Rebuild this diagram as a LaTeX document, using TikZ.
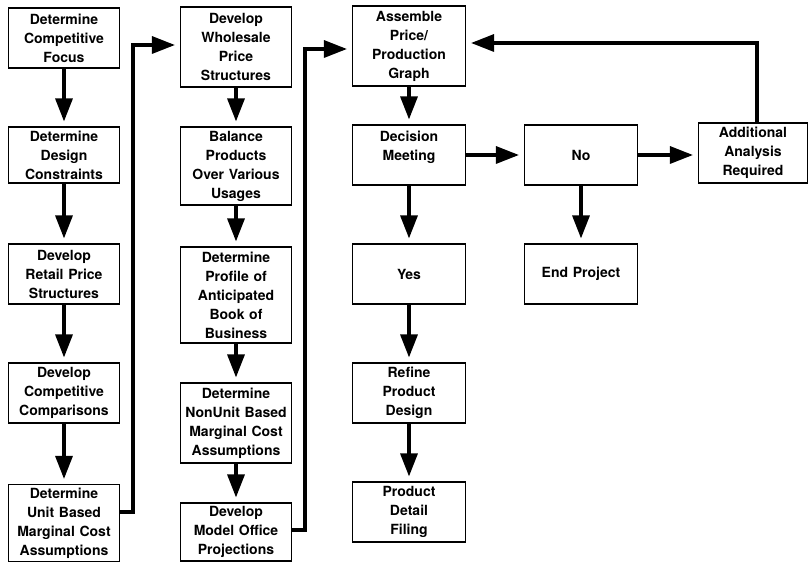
\documentclass[tikz,border=0pt]{standalone}
\usepackage{fontspec}
\setmainfont{TeX Gyre Heros}
\usetikzlibrary{arrows.meta}

\begin{document}
\begin{tikzpicture}[x=1pt, y=1pt, node distance=119pt,
    stepbox/.style={draw, line width=1.1pt, align=center, text width=104pt, inner xsep=2pt, inner ysep=2pt, minimum width=111pt, minimum height=60pt, font=\bfseries\fontsize{14}{19}\selectfont},
    flow/.style={-{Triangle[length=23pt,width=17pt]}, line width=3.2pt, shorten >=5pt}]
    \useasboundingbox (0,0) rectangle (809,563);
    % first column
    \node[stepbox] (focus) at (64,525) {Determine\\Competitive\\Focus};
    \node[stepbox, minimum height=56pt] (constr) [below of=focus, yshift=2pt] {Determine\\Design\\Constraints};
    \node[stepbox] (retail) [below of=constr] {Develop\\Retail Price\\Structures};
    \node[stepbox] (compare) [below of=retail] {Develop\\Competitive\\Comparisons};
    \node[stepbox, minimum height=77pt] (unitcost) [below of=compare, yshift=-11pt] {Determine\\Unit Based\\Marginal Cost\\Assumptions};
    % second column
    \node[stepbox, minimum height=80pt] (wholesale) [right of=focus, xshift=53pt, yshift=-9pt] {Develop\\Wholesale\\Price\\Structures};
    \node[stepbox, minimum height=78pt] (balance) [below of=wholesale] {Balance\\Products\\Over Various\\Usages};
    \node[stepbox, minimum height=96pt] (profile) [below of=balance, yshift=-10pt] {Determine\\Profile of\\Anticipated\\Book of\\Business};
    \node[stepbox, minimum height=80pt] (nonunit) [below of=profile, yshift=-9pt] {Determine\\NonUnit Based\\Marginal Cost\\Assumptions};
    \node[stepbox, minimum height=58pt] (model) [below of=nonunit, yshift=10pt] {Develop\\Model Office\\Projections};
    % third column and decision
    \node[stepbox, minimum width=113pt, minimum height=80pt] (assemble) [right of=wholesale, xshift=54pt, yshift=1pt] {Assemble\\Price/\\Production\\Graph};
    \node[stepbox, minimum width=113pt] (decision) [below of=assemble, yshift=10pt] {Decision\\Meeting\\\mbox{}};
    \node[stepbox, minimum width=113pt] (yes) [below of=decision] {Yes};
    \node[stepbox, minimum width=113pt] (refine) [below of=yes] {Refine\\Product\\Design};
    \node[stepbox, minimum width=113pt] (filing) [below of=refine] {Product\\Detail\\Filing};
    \node[stepbox, minimum width=113pt] (no) [right of=decision, xshift=53pt] {No};
    \node[stepbox, minimum width=113pt] (endproj) [below of=no] {End Project};
    \node[stepbox, minimum width=109pt] (additional) [right of=no, xshift=53pt, yshift=2pt] {Additional\\Analysis\\Required};
    % connectors
    \draw[flow] (focus) -- (constr);
    \draw[flow] (constr) -- (retail);
    \draw[flow] (retail) -- (compare);
    \draw[flow] (compare) -- (unitcost);
    \draw[flow] ([yshift=11pt]unitcost.east) -- ++(13pt,0) |- ([yshift=2pt]wholesale.west);
    \draw[flow] (wholesale) -- (balance);
    \draw[flow] (balance) -- (profile);
    \draw[flow] (profile) -- (nonunit);
    \draw[flow] (nonunit) -- (model);
    \draw[flow] ([yshift=2pt]model.east) -- ++(13pt,0) |- ([yshift=-3pt]assemble.west);
    \draw[flow] (assemble) -- (decision);
    \draw[flow] (decision) -- (yes);
    \draw[flow] (yes) -- (refine);
    \draw[flow] (refine) -- (filing);
    \draw[flow] (decision) -- (no);
    \draw[flow] (no.east) -- (no.east -| additional.west);
    \draw[flow] (no) -- (endproj);
    \draw[flow] ([xshift=4pt]additional.north) |- ([yshift=3pt]assemble.east);
\end{tikzpicture}
\end{document}
